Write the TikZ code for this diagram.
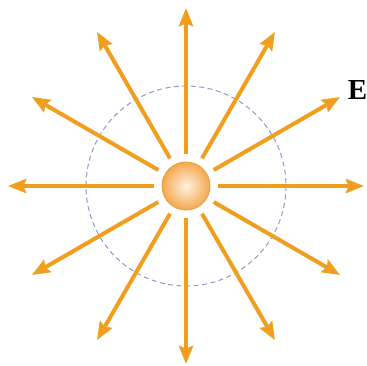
\documentclass[tikz,border=0pt]{standalone}
\usepackage{fontspec}
\setmainfont{Liberation Serif}
\usetikzlibrary{arrows.meta}
\definecolor{fieldorange}{RGB}{240,158,30}
\definecolor{dashblue}{RGB}{135,155,205}
\definecolor{sphereedge}{RGB}{244,168,78}
\definecolor{sphererim}{RGB}{236,155,55}
\definecolor{spherecore}{RGB}{255,240,222}
\tikzset{
  fieldline/.style={draw=fieldorange, line width=4pt, -{Stealth[length=18pt,width=14pt,inset=2.5pt]}},
  charge/.style={circle, minimum size=48pt, inner sep=0pt, draw=sphererim, line width=0.8pt,
                 inner color=spherecore, outer color=sphereedge},
  gauss/.style={draw=dashblue, line width=1pt, dash pattern=on 5pt off 3.5pt}
}
\begin{document}
\begin{tikzpicture}[x=1pt,y=-1pt]
\useasboundingbox (0,0) rectangle (367,365);
\node[charge] (q) at (186,186) {};
\draw[gauss] (q.center) circle (100);
\foreach \a in {0,30,...,330}{
  \draw[fieldline] ([shift={(\a:32)}]q.center) -- ([shift={(\a:178)}]q.center);
}
\node[font=\bfseries\fontsize{29}{29}\selectfont, anchor=center, inner sep=0pt] (E) at (357.5,90) {E};
\end{tikzpicture}
\end{document}
